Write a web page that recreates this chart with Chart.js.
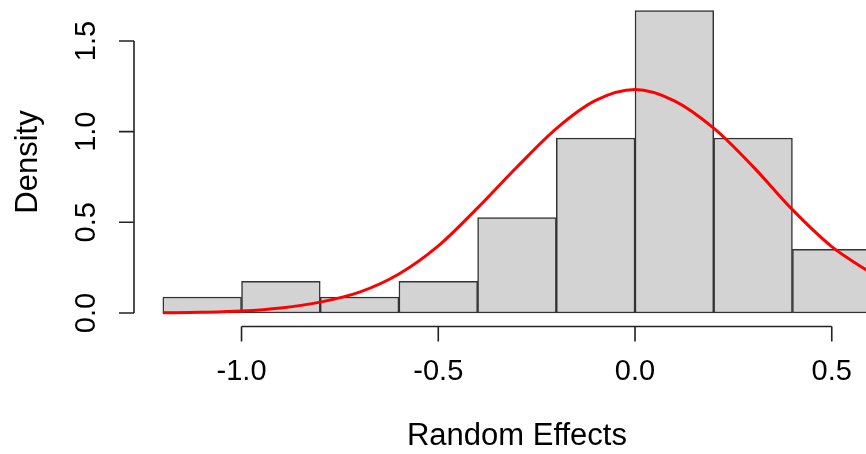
<!DOCTYPE html>
<html>
<head>
<meta charset="utf-8">
<script src="https://cdn.jsdelivr.net/npm/chart.js@4/dist/chart.umd.min.js"></script>
<style>
  html, body { margin: 0; padding: 0; background: #fff; overflow: hidden; }
  #wrap { width: 866px; height: 454px; position: relative; }
</style>
</head>
<body>
<div id="wrap"><canvas id="hist"></canvas></div>
<script>
// histogram bins (centre of each 0.2 wide bin) and their densities
const binCenters = [-1.1, -0.9, -0.7, -0.5, -0.3, -0.1, 0.1, 0.3, 0.5];
const binDensity = [0.088, 0.175, 0.088, 0.175, 0.526, 0.965, 1.667, 0.965, 0.351];

// fitted normal curve, sampled along x
const curveX = [-1.2, -1.1, -1.0, -0.9, -0.8, -0.7, -0.6, -0.5, -0.4, -0.3, -0.2, -0.1, 0.0, 0.1, 0.2, 0.3, 0.4, 0.5, 0.6];
const curveY = [0.001, 0.004, 0.011, 0.028, 0.06, 0.115, 0.215, 0.37, 0.58, 0.805, 1.017, 1.172, 1.232, 1.17, 1.019, 0.807, 0.57, 0.366, 0.22];

const xTicks = [-1.0, -0.5, 0.0, 0.5];
const yTicks = [0.0, 0.5, 1.0, 1.5];

const FONT = '"Liberation Sans", Arial, sans-serif';

// base-graphics style axes: detached lines spanning first..last tick
const baseAxes = {
  id: 'baseAxes',
  afterDraw(chart) {
    const ctx = chart.ctx;
    const xs = chart.scales.x, ys = chart.scales.y;
    const area = chart.chartArea;
    const tick = 15;
    ctx.save();
    ctx.strokeStyle = '#222';
    ctx.lineWidth = 1.6;
    ctx.fillStyle = '#000';
    ctx.font = '29px ' + FONT;

    // x axis
    const xy = area.bottom + 1.5;
    const x0 = xs.getPixelForValue(xTicks[0]);
    const x1 = xs.getPixelForValue(xTicks[xTicks.length - 1]);
    ctx.beginPath();
    ctx.moveTo(x0, xy);
    ctx.lineTo(x1, xy);
    xTicks.forEach(v => {
      const px = xs.getPixelForValue(v);
      ctx.moveTo(px, xy);
      ctx.lineTo(px, xy + tick);
    });
    ctx.stroke();
    ctx.textAlign = 'center';
    ctx.textBaseline = 'middle';
    xTicks.forEach(v => {
      ctx.fillText(v.toFixed(1), xs.getPixelForValue(v), xy + 45);
    });

    // y axis
    const yx = area.left - 0.5;
    const y0 = ys.getPixelForValue(yTicks[0]);
    const y1 = ys.getPixelForValue(yTicks[yTicks.length - 1]);
    ctx.beginPath();
    ctx.moveTo(yx, y0);
    ctx.lineTo(yx, y1);
    yTicks.forEach(v => {
      const py = ys.getPixelForValue(v);
      ctx.moveTo(yx, py);
      ctx.lineTo(yx - tick, py);
    });
    ctx.stroke();
    yTicks.forEach(v => {
      ctx.save();
      ctx.translate(yx - 47, ys.getPixelForValue(v));
      ctx.rotate(-Math.PI / 2);
      ctx.fillText(v.toFixed(1), 0, 0);
      ctx.restore();
    });

    // axis titles
    ctx.font = '31px ' + FONT;
    ctx.fillText('Random Effects', (area.left + xs.getPixelForValue(0.672)) / 2, 436);
    ctx.save();
    ctx.translate(28, 162);
    ctx.rotate(-Math.PI / 2);
    ctx.fillText('Density', 0, 0);
    ctx.restore();
    ctx.restore();
  }
};

new Chart(document.getElementById('hist'), {
  type: 'bar',
  data: {
    datasets: [
      {
        type: 'line',
        data: curveX.map((x, i) => ({ x: x, y: curveY[i] })),
        borderColor: '#ff0000',
        borderWidth: 3,
        pointRadius: 0,
        cubicInterpolationMode: 'monotone',
        order: 0
      },
      {
        type: 'bar',
        data: binCenters.map((x, i) => ({ x: x, y: binDensity[i] })),
        backgroundColor: '#d3d3d3',
        borderColor: '#333',
        borderWidth: 1.5,
        borderSkipped: false,
        barPercentage: 1,
        categoryPercentage: 1,
        order: 1
      }
    ]
  },
  options: {
    responsive: true,
    maintainAspectRatio: false,
    animation: false,
    layout: { padding: { left: 134.5, right: 0, top: 0, bottom: 129 } },
    plugins: {
      legend: { display: false },
      tooltip: { enabled: false }
    },
    scales: {
      x: {
        type: 'linear',
        min: -1.272,
        max: 0.587,
        offset: false,
        display: false,
        // keep bar width at the full bin spacing
        afterBuildTicks: s => { s.ticks = binCenters.map(v => ({ value: v })); }
      },
      y: {
        min: -0.0662,
        max: 1.726,
        display: false
      }
    }
  },
  plugins: [baseAxes]
});
</script>
</body>
</html>
